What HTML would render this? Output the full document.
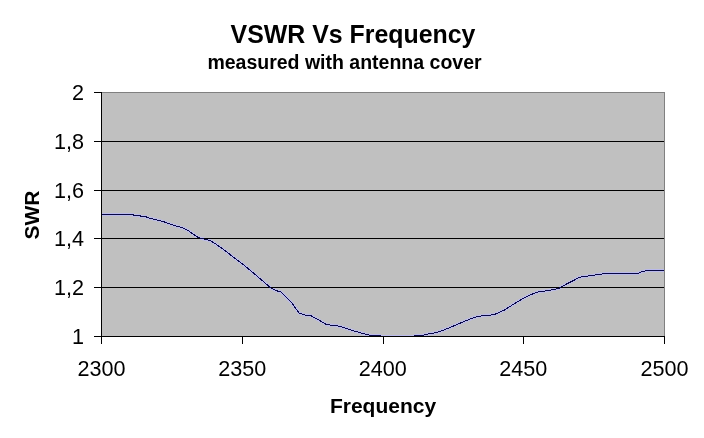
<!DOCTYPE html>
<html><head><meta charset="utf-8"><style>
html,body{margin:0;padding:0;background:#fff;}
body{width:704px;height:438px;overflow:hidden;}
svg{display:block;will-change:transform;}
text{font-family:"Liberation Sans",Arial,sans-serif;fill:#000;}
</style></head><body>
<svg width="704" height="438" viewBox="0 0 704 438">
<rect x="0" y="0" width="704" height="438" fill="#fff"/>
<rect x="101" y="92" width="564" height="245" fill="#c0c0c0"/>
<g stroke="#808080" stroke-width="1" shape-rendering="crispEdges"><line x1="101" y1="92.5" x2="665" y2="92.5"/><line x1="664.5" y1="92" x2="664.5" y2="337"/></g>
<clipPath id="pc"><rect x="102" y="93" width="562" height="243"/></clipPath>
<polyline points="101,214.5 133,214.5 133,215.5 140,215.5 140,216.5 146,216.5 146,217.5 151.4,218.5 162.7,221.4 174,225.3 180,227.1 184.3,228.5 188.5,230.8 192.8,233.8 197,236.8 199.6,238 204.7,239.2 209.8,240.5 214.1,242.9 218.4,245.9 222.6,248.9 226,251.4 232.7,256.6 244,265.1 255.5,274.8 261.4,279.8 270.5,287.7 276.1,290.6 280.7,292 284,295 291.8,303 299.2,313 304.3,314.9 310.6,315.5 319,320.2 327,324.8 336.1,325.5 345.2,328 354.3,331.1 360.7,332.8 366.4,334.5 372,335.5 380,335.5 381,336.5 414,336.5 415,335.5 422,335.5 428,334 437,332.5 448.5,328.2 457,324.4 465.6,320.9 474.1,317.5 481,315.9 486,315.3 493.7,314.8 504.5,310 517.8,301.5 529.2,295.3 538.4,291.8 547.5,290.7 558.9,288.4 565.8,284.4 573.8,280.4 579.2,277.3 586.3,276.3 593.4,275.3 599.1,274.3 606.2,273.5 637.4,273.5 641.7,271.8 647.4,270.5 664,270.5" fill="none" stroke="#babaec" stroke-width="3" stroke-linejoin="round" clip-path="url(#pc)"/>
<g stroke="#000" stroke-width="1" shape-rendering="crispEdges"><line x1="102" y1="141.5" x2="664" y2="141.5"/><line x1="102" y1="190.5" x2="664" y2="190.5"/><line x1="102" y1="238.5" x2="664" y2="238.5"/><line x1="102" y1="287.5" x2="664" y2="287.5"/></g>
<polyline points="101,214.5 133,214.5 133,215.5 140,215.5 140,216.5 146,216.5 146,217.5 151.4,218.5 162.7,221.4 174,225.3 180,227.1 184.3,228.5 188.5,230.8 192.8,233.8 197,236.8 199.6,238 204.7,239.2 209.8,240.5 214.1,242.9 218.4,245.9 222.6,248.9 226,251.4 232.7,256.6 244,265.1 255.5,274.8 261.4,279.8 270.5,287.7 276.1,290.6 280.7,292 284,295 291.8,303 299.2,313 304.3,314.9 310.6,315.5 319,320.2 327,324.8 336.1,325.5 345.2,328 354.3,331.1 360.7,332.8 366.4,334.5 372,335.5 380,335.5 381,336.5 414,336.5 415,335.5 422,335.5 428,334 437,332.5 448.5,328.2 457,324.4 465.6,320.9 474.1,317.5 481,315.9 486,315.3 493.7,314.8 504.5,310 517.8,301.5 529.2,295.3 538.4,291.8 547.5,290.7 558.9,288.4 565.8,284.4 573.8,280.4 579.2,277.3 586.3,276.3 593.4,275.3 599.1,274.3 606.2,273.5 637.4,273.5 641.7,271.8 647.4,270.5 664,270.5" fill="none" stroke="#080846" stroke-width="1" shape-rendering="crispEdges"/>
<g stroke="#000" stroke-width="1" shape-rendering="crispEdges">
<line x1="101.5" y1="92" x2="101.5" y2="344"/>
<line x1="94" y1="336.5" x2="665" y2="336.5"/>
<line x1="94" y1="92.5" x2="101" y2="92.5"/><line x1="94" y1="141.5" x2="101" y2="141.5"/><line x1="94" y1="190.5" x2="101" y2="190.5"/><line x1="94" y1="238.5" x2="101" y2="238.5"/><line x1="94" y1="287.5" x2="101" y2="287.5"/><line x1="94" y1="336.5" x2="101" y2="336.5"/><line x1="101.5" y1="336" x2="101.5" y2="344"/><line x1="242.5" y1="336" x2="242.5" y2="344"/><line x1="383.5" y1="336" x2="383.5" y2="344"/><line x1="523.5" y1="336" x2="523.5" y2="344"/><line x1="664.5" y1="336" x2="664.5" y2="344"/>
</g>
<g font-size="21.6" text-anchor="end"><text x="84" y="100.0">2</text><text x="84" y="149.0">1,8</text><text x="84" y="198.0">1,6</text><text x="84" y="246.0">1,4</text><text x="84" y="295.0">1,2</text><text x="84" y="344.0">1</text></g>
<g font-size="21.6" text-anchor="middle"><text x="101.5" y="376">2300</text><text x="242.25" y="376">2350</text><text x="382.75" y="376">2400</text><text x="523.25" y="376">2450</text><text x="664.5" y="376">2500</text></g>
<text x="353" y="43" font-size="24.9" font-weight="bold" text-anchor="middle">VSWR Vs Frequency</text>
<text x="344.5" y="69" font-size="19.5" font-weight="bold" text-anchor="middle">measured with antenna cover</text>
<text x="383" y="412.7" font-size="21" font-weight="bold" text-anchor="middle">Frequency</text>
<text transform="translate(39.3,215) rotate(-90)" font-size="21" font-weight="bold" text-anchor="middle">SWR</text>
</svg>
</body></html>
